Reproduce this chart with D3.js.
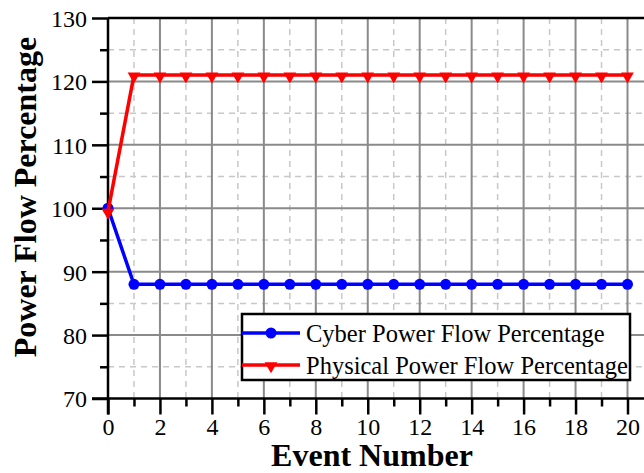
<!DOCTYPE html>
<html>
<head>
<meta charset="utf-8">
<script src="https://cdn.jsdelivr.net/npm/d3@7"></script>
<style>
  body { margin: 0; background: #fff; }
  svg { display: block; font-family: "Liberation Serif", "Times New Roman", serif; }
</style>
</head>
<body>
<div id="chart"></div>
<script>
const events = d3.range(0, 21)
const cyberValues = [100, 88, 88, 88, 88, 88, 88, 88, 88, 88, 88, 88, 88, 88, 88, 88, 88, 88, 88, 88, 88]
const physicalValues = [99.5, 121, 121, 121, 121, 121, 121, 121, 121, 121, 121, 121, 121, 121, 121, 121, 121, 121, 121, 121, 121]
const xTicks = [0, 2, 4, 6, 8, 10, 12, 14, 16, 18, 20]
const xMinorTicks = [1, 3, 5, 7, 9, 11, 13, 15, 17, 19]
const yTicks = [70, 80, 90, 100, 110, 120, 130]
const yMinorTicks = [75, 85, 95, 105, 115, 125]
const seriesNames = ['Cyber Power Flow Percentage', 'Physical Power Flow Percentage']

const width = 644, height = 473
const marginLeft = 108, marginTop = 18, marginBottom = 74

const svg = d3.select('#chart').append('svg')
    .attr('width', width)
    .attr('height', height)

// scales
const x = d3.scaleLinear().domain([0, 20]).range([marginLeft, 627.5])
const y = d3.scaleLinear().domain([70, 130]).range([height - marginBottom - 0.5, marginTop])

const plotRight = width

// minor grid (dashed)
const grid = svg.append('g')
grid.selectAll('.vminor').data(xMinorTicks).join('line')
    .attr('x1', d => x(d)).attr('x2', d => x(d))
    .attr('y1', y(130)).attr('y2', y(70))
    .attr('stroke', '#c8c8c8').attr('stroke-width', 1.5).attr('stroke-dasharray', '6,5')
grid.selectAll('.hminor').data(yMinorTicks).join('line')
    .attr('x1', marginLeft).attr('x2', plotRight)
    .attr('y1', d => y(d)).attr('y2', d => y(d))
    .attr('stroke', '#c8c8c8').attr('stroke-width', 1.5).attr('stroke-dasharray', '6,5')

// major grid (solid)
grid.selectAll('.vmajor').data(xTicks.slice(1)).join('line')
    .attr('x1', d => x(d)).attr('x2', d => x(d))
    .attr('y1', y(130)).attr('y2', y(70))
    .attr('stroke', '#8a8a8a').attr('stroke-width', 2)
grid.selectAll('.hmajor').data(yTicks.slice(1, -1)).join('line')
    .attr('x1', marginLeft).attr('x2', plotRight)
    .attr('y1', d => y(d)).attr('y2', d => y(d))
    .attr('stroke', '#8a8a8a').attr('stroke-width', 2)

// axes
const xAxis = d3.axisBottom(x).tickValues(xTicks).tickSize(16).tickPadding(3).tickFormat(d3.format('d'))
const xAxisMinor = d3.axisBottom(x).tickValues(xMinorTicks).tickSize(8).tickFormat('')
const yAxis = d3.axisLeft(y).tickValues(yTicks).tickSize(16).tickPadding(5).tickFormat(d3.format('d'))
const yAxisMinor = d3.axisLeft(y).tickValues(yMinorTicks).tickSize(8).tickFormat('')

function styleAxis(g) {
    g.select('.domain').remove()
    g.selectAll('.tick line').attr('stroke', '#000').attr('stroke-width', 2.5)
    g.selectAll('.tick text').attr('fill', '#000').style('font-size', '24px')
        .style('font-family', '"Liberation Serif", "Times New Roman", serif')
}

svg.append('g').attr('transform', `translate(0,${y(70)})`).call(xAxisMinor).call(styleAxis)
svg.append('g').attr('transform', `translate(0,${y(70)})`).call(xAxis).call(styleAxis)
svg.append('g').attr('transform', `translate(${marginLeft},0)`).call(yAxisMinor).call(styleAxis)
svg.append('g').attr('transform', `translate(${marginLeft},0)`).call(yAxis).call(styleAxis)
    .selectAll('.tick text').attr('dy', '0.35em')

// frame lines
svg.append('line').attr('x1', marginLeft).attr('x2', plotRight).attr('y1', y(130)).attr('y2', y(130))
    .attr('stroke', '#000').attr('stroke-width', 2.5)
svg.append('line').attr('x1', marginLeft - 16).attr('x2', plotRight).attr('y1', y(70)).attr('y2', y(70))
    .attr('stroke', '#000').attr('stroke-width', 2.5)
svg.append('line').attr('x1', marginLeft).attr('x2', marginLeft).attr('y1', y(130)).attr('y2', y(70) + 16)
    .attr('stroke', '#000').attr('stroke-width', 2.5)

// series
const line = d3.line().x((d, i) => x(events[i])).y(d => y(d))

svg.append('path').datum(cyberValues)
    .attr('d', line).attr('fill', 'none').attr('stroke', '#0000ff').attr('stroke-width', 3.5)
svg.append('g').selectAll('circle').data(cyberValues).join('circle')
    .attr('cx', (d, i) => x(events[i])).attr('cy', d => y(d)).attr('r', 5.5).attr('fill', '#0000ff')

svg.append('path').datum(physicalValues)
    .attr('d', line).attr('fill', 'none').attr('stroke', '#ff0000').attr('stroke-width', 3.5)
const tri = d3.symbol().type(d3.symbolTriangle).size(70)
svg.append('g').selectAll('path').data(physicalValues).join('path')
    .attr('d', tri)
    .attr('transform', (d, i) => `translate(${x(events[i])},${y(d) + 1}) rotate(180)`)
    .attr('fill', '#ff0000')

// legend
const legend = svg.append('g').attr('transform', 'translate(242,314)')
legend.append('rect').attr('width', 388).attr('height', 66)
    .attr('fill', '#fff').attr('stroke', '#000').attr('stroke-width', 2.5)
const legendColors = ['#0000ff', '#ff0000']
seriesNames.forEach((name, i) => {
    const ly = 19 + i * 32
    legend.append('line').attr('x1', 0).attr('x2', 58).attr('y1', ly).attr('y2', ly)
        .attr('stroke', legendColors[i]).attr('stroke-width', 3.5)
    if (i === 0) {
        legend.append('circle').attr('cx', 29).attr('cy', ly).attr('r', 5.5).attr('fill', legendColors[i])
    } else {
        legend.append('path').attr('d', tri)
            .attr('transform', `translate(29,${ly + 1}) rotate(180)`).attr('fill', legendColors[i])
    }
    legend.append('text').attr('x', 64).attr('y', ly).attr('dy', '0.35em')
        .style('font-size', '24.5px').text(name)
})

// axis titles
svg.append('text').attr('x', 372).attr('y', 466).attr('text-anchor', 'middle')
    .style('font-size', '32px').style('font-weight', 'bold').text('Event Number')
svg.append('text').attr('transform', 'translate(36,197) rotate(-90)').attr('text-anchor', 'middle')
    .style('font-size', '32px').style('font-weight', 'bold').text('Power Flow Percentage')
</script>
</body>
</html>
